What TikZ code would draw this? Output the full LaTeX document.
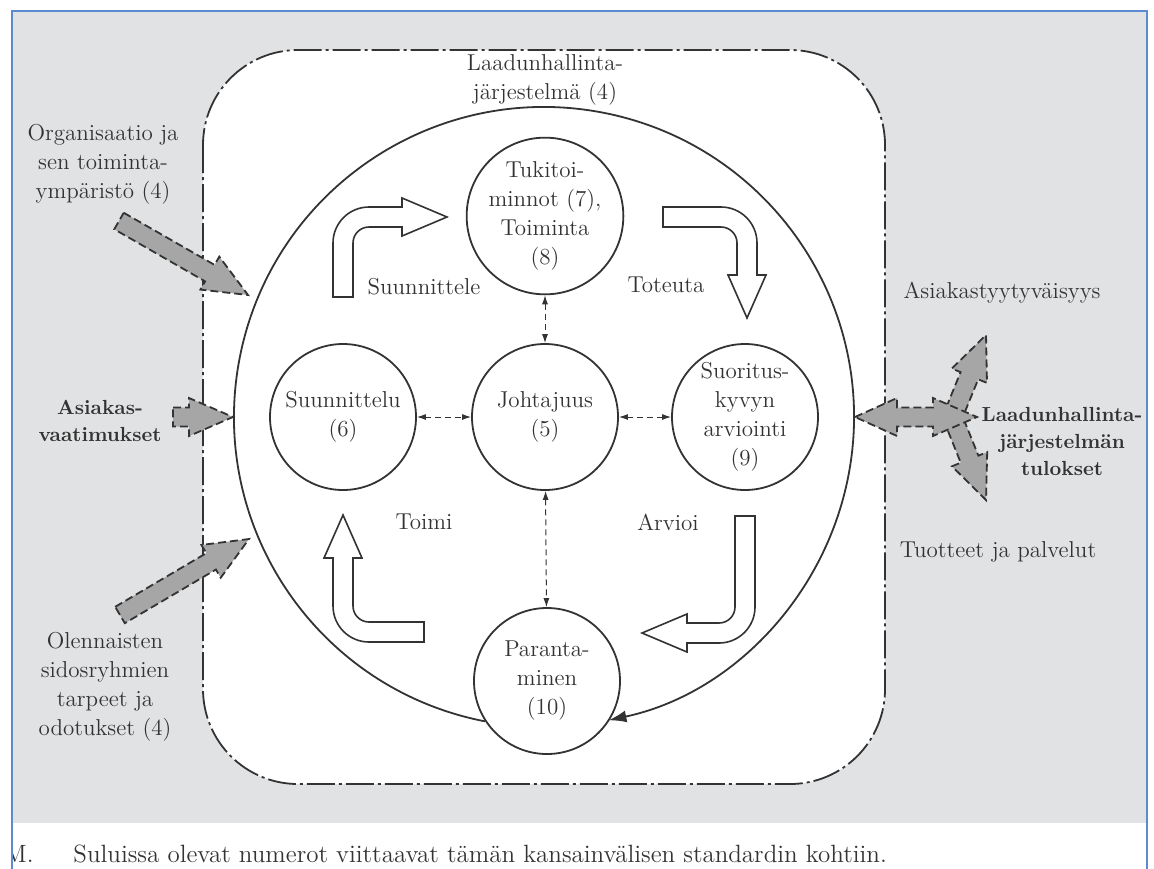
\documentclass[tikz,border=0pt]{standalone}
\usepackage{amsmath}
\usetikzlibrary{arrows.meta,calc}

\definecolor{bggray}{HTML}{E1E2E4}
\definecolor{frameblue}{HTML}{5B8BD0}
\definecolor{arrgray}{HTML}{A6A6A6}
\definecolor{ink}{HTML}{333333}

% gray block arrow from tail #1 to tip #2
\newcommand{\fatarrow}[2]{%
  \coordinate (fa-base) at ($(#2)!22pt!(#1)$);
  \draw[garrow] ($(#1)!4.75pt!90:(#2)$) -- ($(fa-base)!4.75pt!90:(#2)$)
    -- ($(fa-base)!9.5pt!90:(#2)$) -- (#2)
    -- ($(fa-base)!9.5pt!-90:(#2)$) -- ($(fa-base)!4.75pt!-90:(#2)$)
    -- ($(#1)!4.75pt!-90:(#2)$) -- cycle;}

\begin{document}
\begin{tikzpicture}[x=0.5pt, y=-0.5pt,
  every node/.style={text=ink},
  lbl/.style={align=center, font=\fontsize{11.5}{14.5}\selectfont},
  boldlbl/.style={align=center, font=\fontsize{10.2}{13.5}\selectfont\bfseries},
  capt/.style={inner sep=0pt, font=\fontsize{12.5}{15}\selectfont},
  proc/.style={circle, draw=ink, line width=0.9pt, minimum size=73pt,
    inner sep=0pt, align=center, font=\fontsize{11.5}{14.5}\selectfont},
  ring/.style={draw=ink, line width=0.9pt},
  bentarrow/.style={draw=ink, fill=white, line width=0.8pt},
  dlink/.style={draw=ink, densely dashed, line width=0.5pt,
    {Latex[length=4.5pt,width=3pt]}-{Latex[length=4.5pt,width=3pt]}},
  garrow/.style={draw=ink, fill=arrgray, line width=0.9pt,
    dash pattern=on 4pt off 2pt},
  qms/.style={draw=ink, fill=white, line width=0.9pt,
    dash pattern=on 14pt off 2pt on 1.5pt off 2pt, rounded corners=47.5pt}]
  \useasboundingbox (0,0) rectangle (1154,868);
  % background
  \fill[bggray] (13,12) rectangle (1146,823);

  % system boundary
  \draw[qms] (203,50) rectangle (885,784);
  \node[lbl] (qmslbl) at (545,80) {Laadunhallinta-\\järjestelmä (4)};

  % PDCA ring
  \coordinate (ringc) at (544,417);
  \draw[ring, -{Latex[length=9pt,width=6pt]}] ([shift={(101:310)}]ringc)
    arc[start angle=101, end angle=438, radius=310];

  % processes
  \node[proc] (tuki) at (545,216) {Tukitoi-\\minnot (7),\\Toiminta\\(8)};
  \node[proc] (joht) at (545,417) {Johtajuus\\(5)};
  \node[proc] (suun) at (343,417) {Suunnittelu\\(6)};
  \node[proc] (suor) at (745,417) {Suoritus-\\kyvyn\\arviointi\\(9)};
  \node[proc] (para) at (547,681) {Paranta-\\minen\\(10)};

  \draw[dlink] (tuki) -- (joht);
  \draw[dlink] (suun) -- (joht);
  \draw[dlink] (joht) -- (suor);
  \draw[dlink] (joht) -- (para);

  % bent arrows
  \draw[bentarrow] (333,297) -- (333,243) arc[start angle=180, end angle=270, radius=36]
    -- (402,207) -- (402,198) -- (447,217) -- (402,236) -- (402,227) -- (369,227)
    arc[start angle=270, end angle=180, radius=16] -- (353,297) -- cycle;
  \draw[bentarrow] (663,207) -- (721,207) arc[start angle=270, end angle=360, radius=36]
    -- (757,275) -- (766,275) -- (747,318) -- (728,275) -- (737,275) -- (737,243)
    arc[start angle=0, end angle=-90, radius=16] -- (663,227) -- cycle;
  \draw[bentarrow] (424,642) -- (369,642) arc[start angle=90, end angle=180, radius=36]
    -- (333,558) -- (324,558) -- (343,515) -- (362,558) -- (353,558) -- (353,606)
    arc[start angle=180, end angle=90, radius=16] -- (424,622) -- cycle;
  \draw[bentarrow] (735,516) -- (755,516) -- (755,607) arc[start angle=0, end angle=90, radius=36]
    -- (687,643) -- (687,652) -- (642,633) -- (687,614) -- (687,623) -- (719,623)
    arc[start angle=90, end angle=0, radius=16] -- cycle;

  \node[lbl] (plan) at (424,287) {Suunnittele};
  \node[lbl] (do) at (666,285) {Toteuta};
  \node[lbl] (act) at (424,522) {Toimi};
  \node[lbl] (check) at (668,522) {Arvioi};

  % inputs
  \node[lbl] (org) at (103,164) {Organisaatio ja\\sen toiminta-\\ympäristö (4)};
  \node[boldlbl] (req) at (100,421) {Asiakas-\\vaatimukset};
  \node[lbl] (needs) at (105,687) {Olennaisten\\sidosryhmien\\tarpeet ja\\odotukset (4)};
  \coordinate (org-t) at (119,221);  \coordinate (org-h) at (248,295);
  \coordinate (req-t) at (173,417);  \coordinate (req-h) at (233,417);
  \coordinate (needs-t) at (120,615); \coordinate (needs-h) at (249,539);
  \fatarrow{org-t}{org-h}
  \fatarrow{req-t}{req-h}
  \fatarrow{needs-t}{needs-h}

  % outputs
  \coordinate (sat-t) at (955,411);  \coordinate (sat-h) at (986,335);
  \coordinate (prod-t) at (955,423); \coordinate (prod-h) at (986,500);
  \fatarrow{sat-t}{sat-h}
  \fatarrow{prod-t}{prod-h}
  \draw[garrow] (855,417) -- (897,398) -- (897,407.5) -- (933,407.5) -- (933,398)
    -- (977,417) -- (933,436) -- (933,426.5) -- (897,426.5) -- (897,436) -- cycle;
  \node[lbl] (sat) at (1002,293) {Asiakastyytyväisyys};
  \node[boldlbl] (res) at (1062,441) {Laadunhallinta-\\järjestelmän\\tulokset};
  \node[lbl] (prod) at (998,552) {Tuotteet ja palvelut};

  % caption
  \node[capt, anchor=base west] (mark) at (4,862) {M.};
  \node[capt, anchor=base west] (note) at (73,862)
    {Suluissa olevat numerot viittaavat tämän kansainvälisen standardin kohtiin.};
  \fill[white] (0,0) rectangle (12,868);
  \draw[frameblue, line width=1pt] (12,872) -- (12,11) -- (1147,11) -- (1147,872);
\end{tikzpicture}
\end{document}
